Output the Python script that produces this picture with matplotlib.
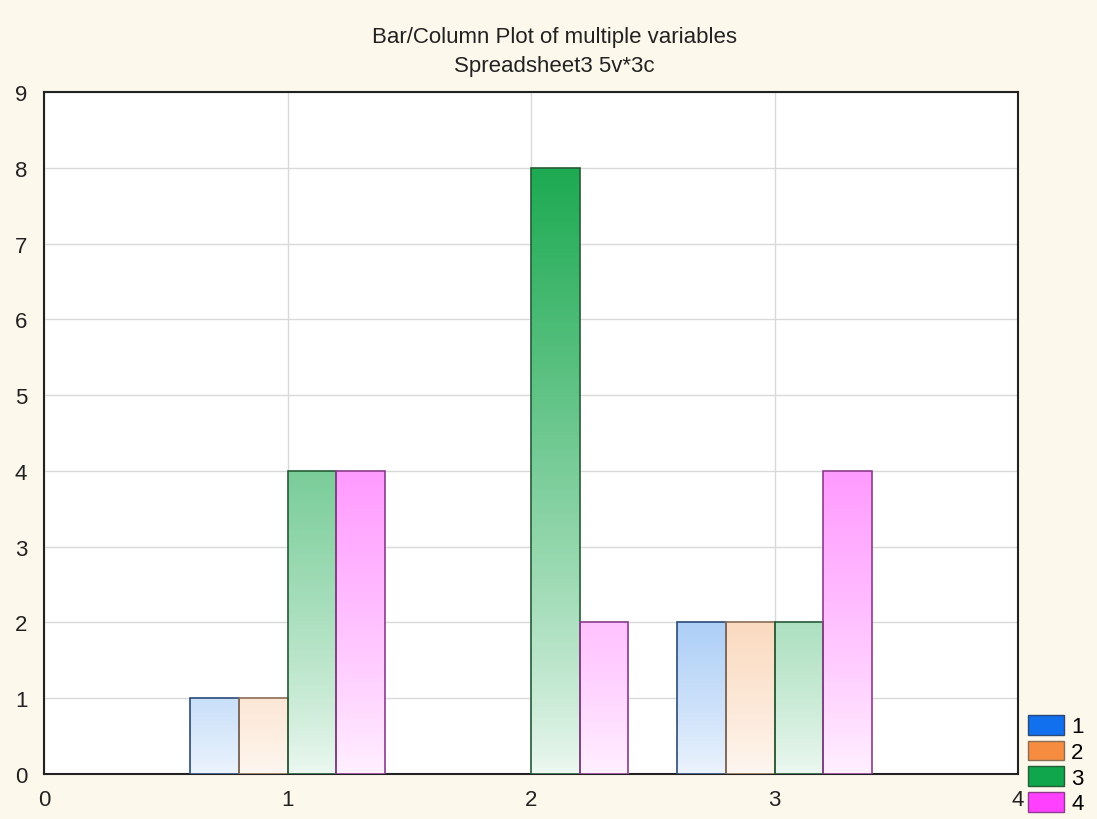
import numpy as np
import matplotlib
matplotlib.use("Agg")
import matplotlib.pyplot as plt
from matplotlib.patches import Patch
from matplotlib.colors import to_rgb

# Data
categories = [1, 2, 3]
series_names = ["1", "2", "3", "4"]
series_values = {
    "1": [1, 0, 2],
    "2": [1, 0, 2],
    "3": [4, 8, 2],
    "4": [4, 2, 4],
}
x_ticks = [0, 1, 2, 3, 4]
y_ticks = list(range(0, 10))
title = "Bar/Column Plot of multiple variables\nSpreadsheet3 5v*3c"

# Styles
fill_colors = ["#1f7ae8", "#f39a52", "#1daa52", "#ff55ff"]
legend_colors = ["#1070ee", "#f58c40", "#10a64c", "#ff40ff"]
edge_colors = ["#2b4a78", "#8a6e56", "#245c36", "#8c3c8c"]
bg = "#fcf8ec"

plt.rcParams['font.family'] = ['Liberation Sans', 'DejaVu Sans']

fig = plt.figure(figsize=(10.97, 8.2), dpi=100, facecolor=bg)
ax = fig.add_axes([44/1097, 1-775/820, (1018-44)/1097, (775-93)/820])
ax.set_facecolor("white")

n = len(series_names)
width = 0.2
gmax = 8.0

def frac(y):
    return 0.08 + 0.92 * (np.clip(y, 0, None) / gmax) ** 0.85

for i, name in enumerate(series_names):
    vals = np.array(series_values[name], dtype=float)
    offsets = np.array(categories) + (i - n / 2) * width + width / 2
    keep = vals > 0
    bars = ax.bar(offsets[keep], vals[keep], width=width, facecolor="none",
                  edgecolor=edge_colors[i], linewidth=1.2, zorder=4)
    c = np.array(to_rgb(fill_colors[i]))
    for b, v in zip(bars, vals[keep]):
        ys = np.linspace(0, v, 200)
        f = frac(ys)[:, None]
        img = (1 - f) * np.ones(3) + f * c
        img = img[:, None, :]
        x0 = b.get_x()
        im = ax.imshow(img, extent=[x0, x0 + width, 0, v], origin="lower",
                       aspect="auto", zorder=3, interpolation="bilinear")
        im.set_clip_path(b)

ax.set_xlim(0, 4)
ax.set_ylim(0, 9)
ax.set_xticks(x_ticks)
ax.set_yticks(y_ticks)
ax.grid(True, color="#d9d9d9", linewidth=1.0, zorder=0)
ax.set_axisbelow(True)
ax.tick_params(length=0, labelsize=16, colors="#222222", pad=12)
ax.tick_params(axis="x", pad=11)
for s in ax.spines.values():
    s.set_linewidth(1.5)
    s.set_color("#222222")

fig.text(554/1097, 1-52/820, title, ha="center", va="center", fontsize=16,
         color="#222222", linespacing=1.55)

handles = [Patch(facecolor=legend_colors[i], edgecolor=edge_colors[i], linewidth=1)
           for i in range(n)]
fig.legend(handles, series_names, loc="lower left",
           bbox_to_anchor=(1012/1097, -11/820), frameon=False, fontsize=16,
           handlelength=1.62, handleheight=1.0, handletextpad=0.35,
           labelspacing=0.14, borderpad=0.2)

fig.savefig("out.png", dpi=100, facecolor=bg)
